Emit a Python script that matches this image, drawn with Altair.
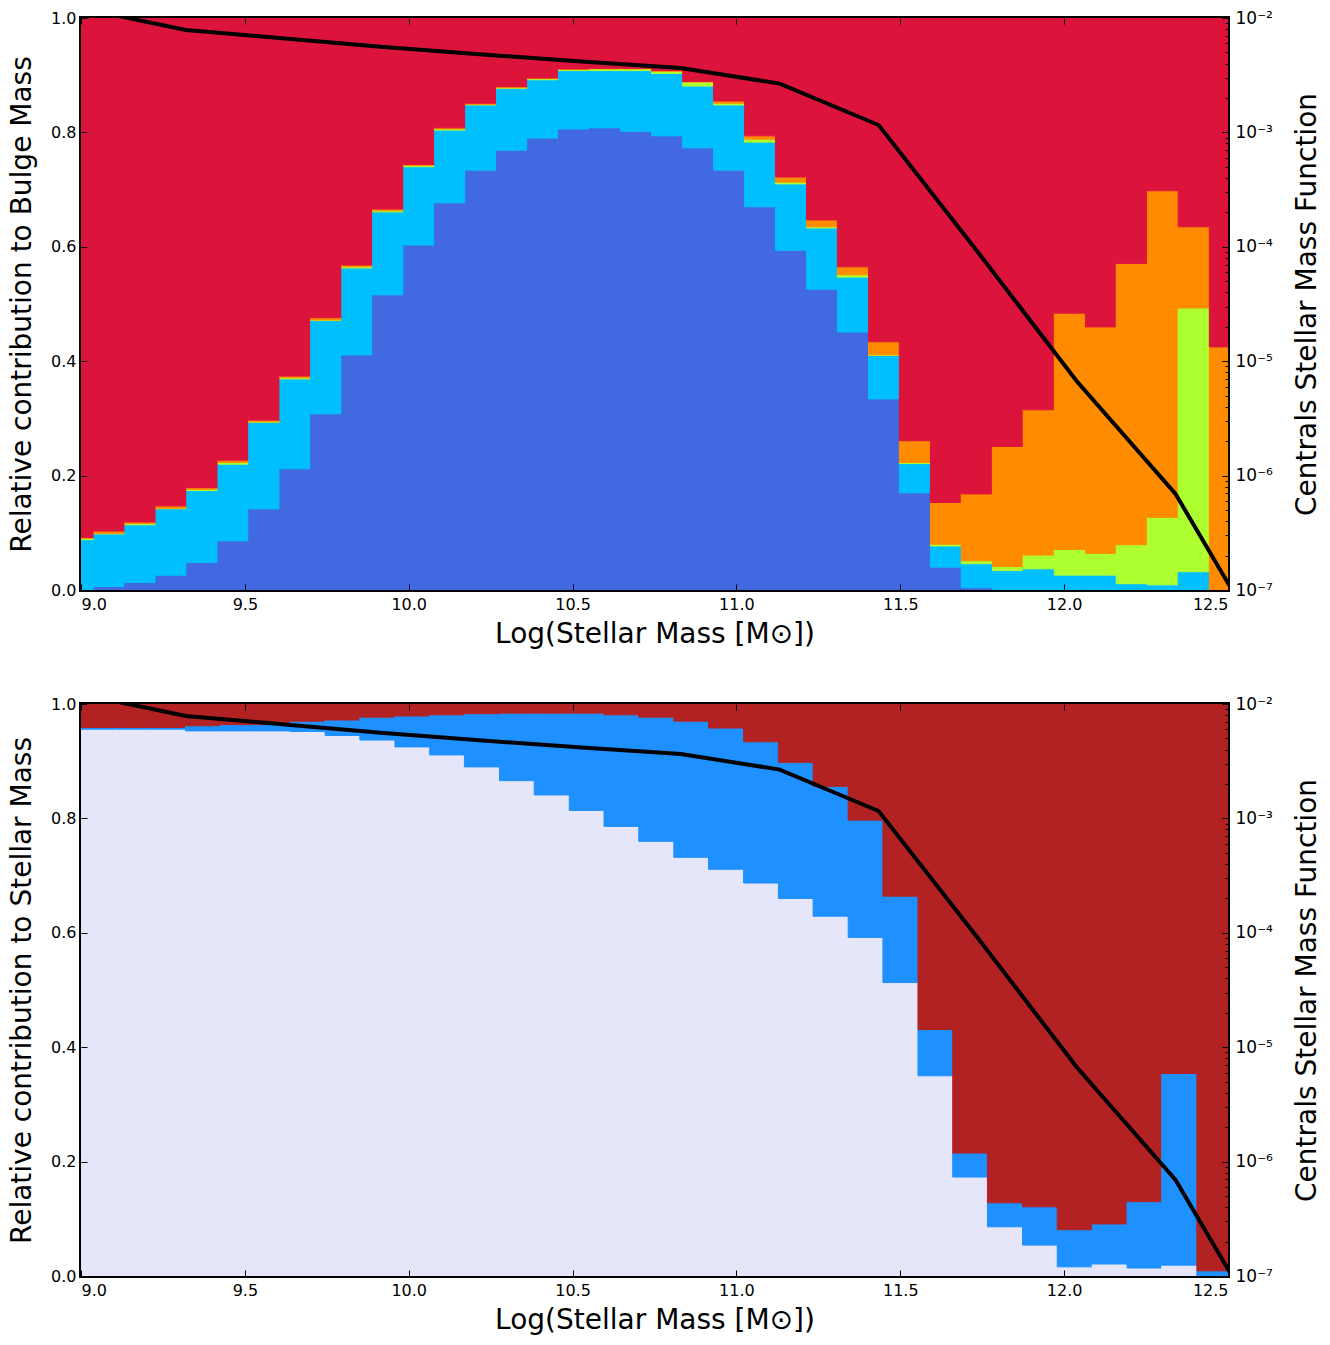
import altair as alt
import pandas as pd

# ---------------- top panel: bulge mass contributions ----------------
top_edges = [8.945, 9.040, 9.134, 9.229, 9.323, 9.418, 9.512, 9.607, 9.701, 9.796,
             9.890, 9.985, 10.079, 10.174, 10.268, 10.363, 10.457, 10.552, 10.647, 10.741,
             10.836, 10.930, 11.025, 11.119, 11.214, 11.308, 11.403, 11.497, 11.592, 11.686,
             11.781, 11.875, 11.970, 12.065, 12.159, 12.254, 12.348, 12.443, 12.537]
top_royalblue = [0.000, 0.006, 0.013, 0.026, 0.048, 0.086, 0.142, 0.212, 0.308, 0.411,
                 0.516, 0.603, 0.677, 0.734, 0.769, 0.790, 0.806, 0.808, 0.802, 0.794,
                 0.773, 0.734, 0.670, 0.594, 0.526, 0.451, 0.334, 0.170, 0.040, 0.004,
                 0.000, 0.000, 0.000, 0.000, 0.000, 0.000, 0.000, 0.000]
top_skyblue = [0.088, 0.092, 0.101, 0.116, 0.126, 0.134, 0.151, 0.157, 0.163, 0.152,
               0.145, 0.137, 0.127, 0.114, 0.108, 0.102, 0.102, 0.100, 0.106, 0.109,
               0.108, 0.114, 0.113, 0.116, 0.107, 0.096, 0.076, 0.051, 0.037, 0.042,
               0.034, 0.037, 0.026, 0.026, 0.011, 0.009, 0.032, 0.000]
top_greenyellow = [0.002, 0.001, 0.002, 0.001, 0.002, 0.003, 0.001, 0.002, 0.001, 0.002,
                   0.002, 0.002, 0.002, 0.001, 0.001, 0.002, 0.002, 0.003, 0.003, 0.004,
                   0.007, 0.003, 0.005, 0.003, 0.002, 0.004, 0.001, 0.002, 0.003, 0.005,
                   0.007, 0.024, 0.045, 0.038, 0.068, 0.118, 0.461, 0.000]
top_orange = [0.002, 0.004, 0.003, 0.004, 0.003, 0.004, 0.003, 0.003, 0.004, 0.003,
              0.003, 0.002, 0.002, 0.002, 0.002, 0.001, 0.001, 0.001, 0.001, 0.001,
              0.001, 0.004, 0.006, 0.009, 0.012, 0.014, 0.023, 0.038, 0.073, 0.117,
              0.210, 0.254, 0.413, 0.396, 0.492, 0.571, 0.142, 0.425]

# ---------------- bottom panel: stellar mass contributions ----------------
bot_edges = [9.000, 9.106, 9.213, 9.319, 9.426, 9.532, 9.638, 9.745, 9.851, 9.958,
             10.064, 10.170, 10.277, 10.383, 10.490, 10.596, 10.702, 10.809, 10.915, 11.022,
             11.128, 11.234, 11.341, 11.447, 11.554, 11.660, 11.766, 11.873, 11.979, 12.086,
             12.192, 12.298, 12.405, 12.511]
bot_lavender = [0.956, 0.956, 0.956, 0.953, 0.953, 0.953, 0.952, 0.945, 0.937, 0.925,
                0.911, 0.890, 0.866, 0.841, 0.814, 0.786, 0.760, 0.732, 0.711, 0.687,
                0.660, 0.629, 0.592, 0.513, 0.350, 0.173, 0.086, 0.054, 0.016, 0.021,
                0.014, 0.019, 0.000]
bot_dodger = [0.003, 0.003, 0.003, 0.009, 0.011, 0.011, 0.018, 0.027, 0.040, 0.054,
              0.070, 0.093, 0.118, 0.143, 0.170, 0.195, 0.217, 0.238, 0.247, 0.247,
              0.238, 0.227, 0.205, 0.151, 0.081, 0.042, 0.042, 0.067, 0.065, 0.070,
              0.116, 0.335, 0.009]

# ---------------- centrals stellar mass function ----------------
smf_x = [9.018, 9.320, 9.622, 9.924, 10.226, 10.528, 10.830, 11.132, 11.434, 11.736,
         12.038, 12.340, 12.642]
smf_y = [1.19e-2, 7.85e-3, 6.62e-3, 5.58e-3, 4.80e-3, 4.17e-3, 3.66e-3, 2.67e-3, 1.16e-3,
         9.06e-5, 6.71e-6, 6.90e-7, 2.34e-8]

FONT = "DejaVu Sans"
W, H = 1147, 572
TICK = 6


def stack_table(edges, comps, rest):
    rows = []
    for i in range(len(edges) - 1):
        cum = 0.0
        for name, vals in comps:
            rows.append(dict(x=edges[i], x2=edges[i + 1], y=cum, y2=cum + vals[i], comp=name))
            cum += vals[i]
        rows.append(dict(x=edges[i], x2=edges[i + 1], y=cum, y2=1.0, comp=rest))
    return pd.DataFrame(rows)


line_df = pd.DataFrame({"x": smf_x, "smf": smf_y})
minor_vals = [k * 10.0 ** e for e in range(-7, -2) for k in range(2, 10)]
major_vals = [1e-7, 1e-6, 1e-5, 1e-4, 1e-3, 1e-2]
xvals = [9.0, 9.5, 10.0, 10.5, 11.0, 11.5, 12.0, 12.5]


def panel(df, domain, colors, ytitle):
    xscale = alt.Scale(domain=[9.0, 12.5], nice=False, zero=False)
    cscale = alt.Scale(domain=domain, range=colors)
    rects = alt.Chart(df).mark_rect(clip=True, strokeWidth=1.0).encode(
        x=alt.X("x:Q", scale=xscale,
                axis=alt.Axis(orient="bottom", values=xvals, format=".1f", tickSize=TICK,
                              offset=-TICK, domain=False, labelPadding=6, grid=False,
                              title="Log(Stellar Mass [M⊙])", titlePadding=8, zindex=1)),
        x2="x2:Q",
        y=alt.Y("y:Q", scale=alt.Scale(domain=[0, 1], nice=False),
                axis=alt.Axis(values=[0, 0.2, 0.4, 0.6, 0.8, 1.0], format=".1f",
                              tickSize=TICK, offset=-TICK, domain=False, labelPadding=5,
                              grid=False, title=ytitle, titlePadding=14, zindex=1)),
        y2="y2:Q",
        color=alt.Color("comp:N", scale=cscale, legend=None),
        stroke=alt.Stroke("comp:N", scale=cscale, legend=None),
    )
    logscale = alt.Scale(type="log", domain=[1e-7, 1e-2], nice=False)
    line = alt.Chart(line_df).mark_line(color="black", strokeWidth=4, clip=True).encode(
        x=alt.X("x:Q", scale=xscale,
                axis=alt.Axis(orient="top", values=xvals, labels=False, tickSize=TICK,
                              offset=-TICK, domain=False, grid=False, title=None, zindex=1)),
        y=alt.Y("smf:Q", scale=logscale,
                axis=alt.Axis(orient="right", values=major_vals, tickSize=TICK, offset=-TICK,
                              domain=False, grid=False, labelPadding=7, labelFontSize=17,
                              labelExpr="['10⁻⁷','10⁻⁶','10⁻⁵','10⁻⁴','10⁻³','10⁻²'][round(log(datum.value)/LN10)+7]",
                              title="Centrals Stellar Mass Function", titleAngle=270,
                              titlePadding=49, zindex=1)),
    )
    minor = alt.Chart(line_df).mark_line(opacity=0, clip=True).encode(
        x=alt.X("x:Q", scale=xscale, axis=None),
        y=alt.Y("smf:Q", scale=logscale,
                axis=alt.Axis(orient="right", values=minor_vals, tickSize=3, offset=-3,
                              domain=False, grid=False, labels=False, title=None, zindex=1)),
    )
    return alt.layer(rects, line, minor).resolve_scale(y="independent").resolve_axis(
        x="independent", y="independent").properties(width=W, height=H)


top_df = stack_table(top_edges, [("royalblue", top_royalblue), ("deepskyblue", top_skyblue),
                                 ("greenyellow", top_greenyellow), ("darkorange", top_orange)],
                     "crimson")
bot_df = stack_table(bot_edges, [("lavender", bot_lavender), ("dodgerblue", bot_dodger)],
                     "firebrick")

top = panel(top_df, ["royalblue", "deepskyblue", "greenyellow", "darkorange", "crimson"],
            ["#4169E1", "#00BFFF", "#ADFF2F", "#FF8C00", "#DC143C"],
            "Relative contribution to Bulge Mass")
bot = panel(bot_df, ["lavender", "dodgerblue", "firebrick"],
            ["#E6E6FA", "#1E90FF", "#B22222"],
            "Relative contribution to Stellar Mass")

chart = alt.vconcat(top, bot, spacing=43).resolve_scale(
    color="independent", stroke="independent"
).properties(
    padding={"left": 6, "top": 7, "right": 5, "bottom": 5},
    background="white",
).configure_view(stroke="black", strokeWidth=4).configure_axis(
    labelFont=FONT, titleFont=FONT, labelFontSize=16, titleFontSize=28,
    titleFontWeight="normal", labelColor="black", titleColor="black",
    tickColor="black", tickWidth=1
)

chart.save("out.html", embed_options={"renderer": "svg", "actions": False})
